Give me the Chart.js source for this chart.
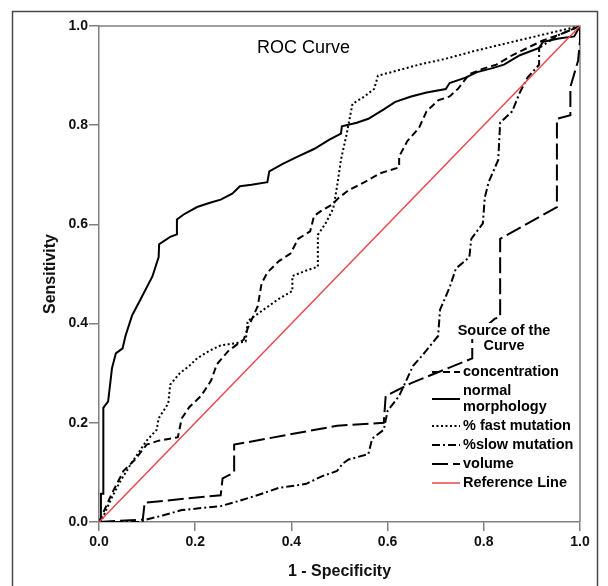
<!DOCTYPE html>
<html>
<head>
<meta charset="utf-8">
<title>ROC Curve</title>
<script src="https://cdn.jsdelivr.net/npm/chart.js@4.4.1/dist/chart.umd.min.js"></script>
<style>
  html, body { margin: 0; padding: 0; background: #fff; }
  #wrap { width: 608px; height: 586px; }
</style>
</head>
<body>
<div id="wrap"><canvas id="roc" width="608" height="586"></canvas></div>
<script>
// ---------- Data ----------
const TICKS = [0, 0.2, 0.4, 0.6, 0.8, 1.0];

const concentrationX = [0, 0.027, 0.051, 0.075, 0.099, 0.124, 0.164, 0.172, 0.188, 0.212, 0.233, 0.245, 0.269, 0.301, 0.309, 0.33, 0.338, 0.35, 0.374, 0.398, 0.414, 0.439, 0.447, 0.463, 0.483, 0.499, 0.519, 0.552, 0.584, 0.624, 0.624, 0.641, 0.665, 0.681, 0.705, 0.729, 0.746, 0.77, 0.802, 0.826, 0.859, 0.891, 0.923, 0.956, 1.0];
const concentrationY = [0, 0.058, 0.103, 0.126, 0.156, 0.164, 0.171, 0.209, 0.232, 0.254, 0.285, 0.318, 0.345, 0.368, 0.39, 0.435, 0.481, 0.503, 0.526, 0.541, 0.571, 0.586, 0.617, 0.628, 0.639, 0.654, 0.669, 0.685, 0.703, 0.715, 0.737, 0.768, 0.794, 0.828, 0.85, 0.858, 0.873, 0.903, 0.915, 0.922, 0.941, 0.956, 0.971, 0.982, 1.0];

const morphologyX = [0, 0.004, 0.004, 0.009, 0.009, 0.019, 0.027, 0.035, 0.049, 0.055, 0.069, 0.087, 0.111, 0.124, 0.125, 0.148, 0.162, 0.162, 0.176, 0.204, 0.229, 0.253, 0.277, 0.293, 0.317, 0.350, 0.354, 0.382, 0.414, 0.447, 0.479, 0.503, 0.505, 0.536, 0.560, 0.592, 0.616, 0.649, 0.681, 0.721, 0.729, 0.762, 0.786, 0.818, 0.842, 0.875, 0.915, 0.923, 0.956, 0.988, 1.0];
const morphologyY = [0, 0, 0.057, 0.057, 0.23, 0.243, 0.31, 0.34, 0.35, 0.375, 0.417, 0.45, 0.495, 0.534, 0.56, 0.575, 0.58, 0.61, 0.62, 0.635, 0.643, 0.65, 0.662, 0.677, 0.68, 0.685, 0.707, 0.722, 0.737, 0.752, 0.771, 0.783, 0.798, 0.805, 0.813, 0.832, 0.847, 0.858, 0.866, 0.873, 0.885, 0.896, 0.907, 0.915, 0.922, 0.941, 0.956, 0.968, 0.975, 0.979, 1.0];

const fastX = [0, 0.006, 0.027, 0.043, 0.067, 0.099, 0.12, 0.124, 0.144, 0.148, 0.168, 0.188, 0.204, 0.229, 0.253, 0.281, 0.305, 0.309, 0.342, 0.374, 0.402, 0.402, 0.431, 0.455, 0.455, 0.471, 0.487, 0.495, 0.503, 0.515, 0.527, 0.552, 0.572, 0.58, 0.608, 0.665, 0.721, 0.778, 0.842, 0.907, 0.956, 1.0];
const fastY = [0, 0.005, 0.05, 0.08, 0.118, 0.164, 0.186, 0.209, 0.239, 0.277, 0.3, 0.315, 0.33, 0.345, 0.356, 0.36, 0.364, 0.405, 0.428, 0.45, 0.466, 0.496, 0.507, 0.515, 0.579, 0.602, 0.632, 0.677, 0.73, 0.783, 0.843, 0.858, 0.873, 0.9, 0.907, 0.922, 0.934, 0.949, 0.964, 0.979, 0.99, 1.0];

const slowX = [0, 0.083, 0.099, 0.132, 0.172, 0.212, 0.253, 0.293, 0.342, 0.374, 0.406, 0.431, 0.463, 0.495, 0.507, 0.519, 0.56, 0.568, 0.592, 0.6, 0.624, 0.653, 0.673, 0.705, 0.709, 0.729, 0.742, 0.77, 0.774, 0.798, 0.802, 0.81, 0.83, 0.834, 0.859, 0.875, 0.891, 0.915, 0.915, 0.939, 0.956, 1.0];
const slowY = [0, 0, 0.005, 0.013, 0.024, 0.028, 0.032, 0.043, 0.058, 0.069, 0.073, 0.077, 0.092, 0.103, 0.118, 0.126, 0.137, 0.168, 0.186, 0.224, 0.254, 0.315, 0.337, 0.375, 0.428, 0.473, 0.511, 0.534, 0.571, 0.602, 0.654, 0.685, 0.73, 0.805, 0.828, 0.866, 0.896, 0.922, 0.956, 0.971, 0.982, 1.0];

const volumeX = [0, 0.091, 0.095, 0.253, 0.257, 0.281, 0.281, 0.495, 0.592, 0.596, 0.649, 0.776, 0.776, 0.823, 0.834, 0.834, 0.952, 0.952, 0.98, 0.98, 0.996, 1.0, 1.0];
const volumeY = [0, 0.005, 0.039, 0.054, 0.088, 0.1, 0.156, 0.194, 0.2, 0.254, 0.28, 0.33, 0.37, 0.41, 0.413, 0.571, 0.635, 0.813, 0.82, 0.877, 0.93, 0.97, 1.0];

const referenceX = [0, 1];
const referenceY = [0, 1];

const LEGEND_TITLE = ["Source of the", "Curve"];
const LEGEND_LABELS = [["concentration"], ["normal", "morphology"], ["% fast mutation"], ["%slow mutation"], ["volume"], ["Reference Line"]];

// ---------- Styles ----------
const FONT = "'Liberation Sans', Arial, Helvetica, sans-serif";
const AXIS_COLOR = "#808080";
const REF_COLOR = "#e8474b";

function toPoints(xs, ys) {
  return xs.map((x, i) => ({ x, y: ys[i] }));
}

function curve(label, xs, ys, dash, color, width) {
  return {
    label,
    data: toPoints(xs, ys),
    borderColor: color || "#000",
    borderWidth: width || 2,
    borderDash: dash,
    pointRadius: 0,
    showLine: true,
    fill: false,
    tension: 0
  };
}

const datasets = [
  curve("Reference Line", referenceX, referenceY, [], REF_COLOR, 1.5),
  curve("concentration", concentrationX, concentrationY, [7, 4]),
  curve("normal morphology", morphologyX, morphologyY, []),
  curve("% fast mutation", fastX, fastY, [2, 2.5]),
  curve("%slow mutation", slowX, slowY, [8, 3, 2, 3]),
  curve("volume", volumeX, volumeY, [16, 5])
];
// legend order follows LEGEND_LABELS
const legendOrder = [1, 2, 3, 4, 5, 0];

// ---------- Plugins ----------
const framePlugin = {
  id: "frame",
  beforeDraw(chart) {
    const ctx = chart.ctx;
    ctx.save();
    ctx.fillStyle = "#fff";
    ctx.fillRect(0, 0, chart.width, chart.height);
    ctx.strokeStyle = "#4a4a4a";
    ctx.lineWidth = 1.5;
    ctx.strokeRect(12.5, 11.5, 585, 640);
    ctx.restore();
  },
  beforeDatasetsDraw(chart) {
    const { ctx, chartArea: a } = chart;
    ctx.save();
    ctx.strokeStyle = AXIS_COLOR;
    ctx.lineWidth = 1.5;
    ctx.beginPath();
    ctx.moveTo(a.left, a.top);
    ctx.lineTo(a.right, a.top);
    ctx.lineTo(a.right, a.bottom);
    ctx.stroke();
    ctx.restore();
  }
};

function boxedText(ctx, text, x, y) {
  const w = ctx.measureText(text).width;
  let left = x;
  if (ctx.textAlign === "center") left = x - w / 2;
  ctx.fillStyle = "#fff";
  ctx.fillRect(left - 1, y - 8, w + 2, 16);
  ctx.fillStyle = "#000";
  ctx.fillText(text, x, y);
}

const titleLegendPlugin = {
  id: "titleLegend",
  afterDatasetsDraw(chart) {
    const ctx = chart.ctx;
    ctx.save();

    // chart title
    ctx.font = "18px " + FONT;
    ctx.fillStyle = "#000";
    ctx.textAlign = "center";
    ctx.textBaseline = "middle";
    ctx.fillText("ROC Curve", 303.5, 48);

    // legend
    ctx.font = "bold 14.5px " + FONT;
    LEGEND_TITLE.forEach((t, i) => boxedText(ctx, t, 504, 331 + i * 14.5));

    let y = 372;
    legendOrder.forEach((dsIndex, i) => {
      const ds = datasets[dsIndex];
      const lines = LEGEND_LABELS[i];
      const mid = y + (lines.length - 1) * 8;
      ctx.strokeStyle = ds.borderColor;
      ctx.lineWidth = ds.borderWidth;
      ctx.setLineDash(ds.borderDash);
      ctx.beginPath();
      ctx.moveTo(432, mid);
      ctx.lineTo(460, mid);
      ctx.stroke();
      ctx.setLineDash([]);
      ctx.textAlign = "left";
      lines.forEach((t, k) => boxedText(ctx, t, 463, y + k * 16));
      y += (lines.length - 1) * 16 + 19;
    });
    ctx.restore();
  }
};

// ---------- Chart ----------
Chart.defaults.font.family = FONT;
Chart.defaults.color = "#000";

const tickFont = { size: 14, weight: "bold" };
const titleFont = { size: 16, weight: "bold" };

new Chart(document.getElementById("roc"), {
  type: "scatter",
  data: { datasets },
  options: {
    responsive: false,
    animation: false,
    devicePixelRatio: 1,
    layout: { padding: { left: 0, right: 28, top: 26, bottom: 0 } },
    plugins: {
      legend: { display: false },
      tooltip: { enabled: false }
    },
    scales: {
      x: {
        type: "linear",
        min: 0,
        max: 1,
        afterFit: (scale) => { scale.height = 64; },
        afterBuildTicks: (scale) => { scale.ticks = TICKS.map(v => ({ value: v })); },
        ticks: { font: tickFont, color: "#111", padding: 3, autoSkip: false, maxRotation: 0, callback: v => v.toFixed(1) },
        grid: { drawOnChartArea: false, drawTicks: true, tickLength: 9, color: AXIS_COLOR, lineWidth: 1.5 },
        border: { color: AXIS_COLOR, width: 1.5 },
        title: { display: true, text: "1 - Specificity", font: titleFont, color: "#111", padding: { top: 0, bottom: 4.4 } }
      },
      y: {
        type: "linear",
        min: 0,
        max: 1,
        afterFit: (scale) => { scale.width = 99; },
        afterBuildTicks: (scale) => { scale.ticks = TICKS.map(v => ({ value: v })); },
        ticks: { font: tickFont, color: "#111", padding: 1, autoSkip: false, callback: v => v.toFixed(1) },
        grid: { drawOnChartArea: false, drawTicks: true, tickLength: 10, color: AXIS_COLOR, lineWidth: 1.5 },
        border: { color: AXIS_COLOR, width: 1.5 },
        title: { display: true, text: "Sensitivity", font: titleFont, color: "#111", padding: { top: 41.4, bottom: 0 } }
      }
    }
  },
  plugins: [framePlugin, titleLegendPlugin]
});
</script>
</body>
</html>
